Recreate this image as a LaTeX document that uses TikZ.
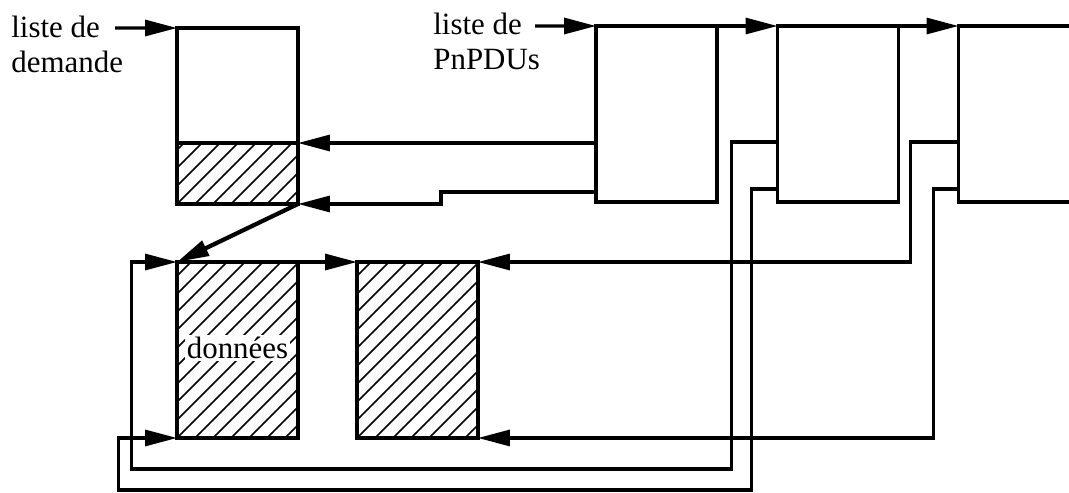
\documentclass[tikz,border=0pt]{standalone}
\usepackage{fontspec}
\setmainfont{Liberation Serif}
\usepackage{tikz}
\usetikzlibrary{arrows.meta,calc,positioning}

\begin{document}
\begin{tikzpicture}[
    x=0.02cm, y=-0.02cm,
    cell/.style={
        draw,
        rectangle,
        line width=1.8pt,
        minimum width=2.42cm,
        minimum height=3.52cm,
        inner sep=0pt,
        outer sep=0pt
    },
    hatched/.style={
        path picture={
            \foreach \k in {-11,...,7}
                \draw[line width=0.9pt]
                    ([xshift=\k*0.36cm]path picture bounding box.south west)
                    -- ++(4cm,4cm);
        }
    },
    label/.style={
        align=left,
        inner sep=0pt,
        font=\fontsize{17.6}{19.9}\selectfont
    },
    arrow/.style={
        -{Triangle[length=0.64cm,width=0.32cm]},
        line width=1.8pt
    }
]
\useasboundingbox (0,0) rectangle (1069,493);
\clip (0,0) rectangle (1069,493);

% Request list
\node[label, anchor=north west] at (11,16) (dlabel) {liste de\\demande};
\node[cell]                          at (237.5,116) (dem)  {};
\node[cell, hatched, minimum height=1.22cm] at (237.5,173.5) (demh) {};

% PnPDU list
\node[label, anchor=north west] at (433,13) (plabel) {liste de\\PnPDUs};
\node[cell] at (656.5,114) (p1) {};
\node[cell] at (838,114)   (p2) {};
\node[cell] at (1019,114)  (p3) {};

% Data buffers
\node[cell, hatched] at (237.5,350) (d1) {};
\node[cell, hatched] at (417.5,350) (d2) {};
\node[label, fill=white, inner sep=1pt] at (237.5,348) (dtext) {données};

% Heads of the lists
\coordinate (in1) at (115,28);
\coordinate (in2) at (535,26);
\draw[arrow] (in1) -- (dem.north west);
\draw[arrow] (in2) -- (p1.north west);

% Chaining
\draw[arrow] (p1.north east) -- (p2.north west);
\draw[arrow] (p2.north east) -- (p3.north west);
\draw[arrow] (d1.north east) -- (d2.north west);
\draw[arrow, line width=2.4pt] (dem.south east) -- (d1.north west);

% PnPDU 1 -> request
\draw[arrow] (demh.north east -| p1.west) -- (demh.north east);
\draw[arrow] ($(p1.south west)+(0,-10)$) -- ++(-155,0) |- (dem.south east);

% PnPDU 2 -> first buffer
\draw[arrow] ($(p2.north west)+(0,116)$) -- ++(-46,0) -- ++(0,327)
    -- ++(-600,0) |- (d1.north west);
\draw[arrow] ($(p2.south west)+(0,-13)$) -- ++(-26,0) -- ++(0,301)
    -- ++(-633,0) |- (d1.south west);

% PnPDU 3 -> second buffer
\draw[arrow] ($(p3.north west)+(0,116)$) -- ++(-48,0) |- (d2.north east);
\draw[arrow] ($(p3.south west)+(0,-13)$) -- ++(-25,0) |- (d2.south east);

\end{tikzpicture}
\end{document}
